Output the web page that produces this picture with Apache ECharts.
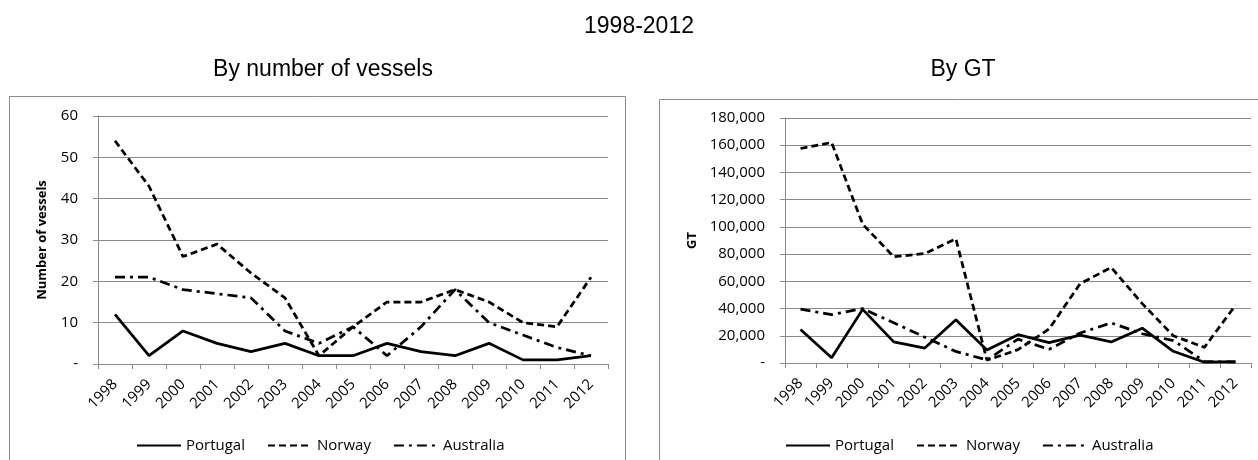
<!DOCTYPE html>
<html>
<head>
<meta charset="utf-8">
<script src="https://cdn.jsdelivr.net/npm/echarts@6/dist/echarts.min.js"></script>
<style>
    html, body { margin: 0; padding: 0; background: #fff; }
    #main { width: 1258px; height: 460px; }
</style>
</head>
<body>
<div id="main"></div>
<script>
    // data
    var years = ['1998', '1999', '2000', '2001', '2002', '2003', '2004', '2005',
        '2006', '2007', '2008', '2009', '2010', '2011', '2012'];
    var seriesNames = ['Portugal', 'Norway', 'Australia'];

    var portugalVessels = [12, 2, 8, 5, 3, 5, 2, 2, 5, 3, 2, 5, 1, 1, 2];
    var norwayVessels = [54, 43, 26, 29, 22, 16, 2, 9, 15, 15, 18, 15, 10, 9, 21];
    var australiaVessels = [21, 21, 18, 17, 16, 8, 5, 9, 2, 9, 18, 10, 7, 4, 2];

    var portugalGT = [24600, 3800, 39400, 15500, 11000, 31800, 9500, 20800,
        15000, 20500, 15500, 25600, 8600, 600, 1000];
    var norwayGT = [157600, 162000, 102000, 78000, 80400, 91300, 2000, 9800,
        25000, 58300, 70200, 43600, 20000, 11500, 42400];
    var australiaGT = [39600, 35500, 40000, 29500, 19000, 8500, 2200, 17500,
        10000, 22000, 29500, 21500, 16500, 1200, 600];

    var axisGrey = '#8a8a8a';
    var labelFont = 'Open Sans';

    // line styles: solid / dashed / dash-dot
    var lineTypes = ['solid', [7, 4], [10, 5, 3, 5]];

    function zeroDash(v) {
        return v === 0 ? '-' : v.toLocaleString('en-US');
    }

    function makeXAxis(idx) {
        return {
            type: 'category',
            gridIndex: idx,
            data: years,
            boundaryGap: true,
            axisLine: { lineStyle: { color: axisGrey, width: 1 } },
            axisTick: { show: true, interval: 0, length: 5, lineStyle: { color: axisGrey } },
            axisLabel: {
                interval: 0,
                rotate: 45,
                margin: 18,
                color: '#000',
                fontFamily: labelFont,
                fontSize: 15
            }
        };
    }

    function makeYAxis(idx, max, step, name, gap) {
        return {
            type: 'value',
            gridIndex: idx,
            min: 0,
            max: max,
            interval: step,
            name: name,
            nameLocation: 'middle',
            nameRotate: 90,
            nameGap: gap,
            nameTextStyle: {
                color: '#000',
                fontFamily: labelFont,
                fontWeight: 'bold',
                fontSize: 13
            },
            axisLine: { show: true, lineStyle: { color: axisGrey, width: 1 } },
            axisTick: { show: true, length: 5, lineStyle: { color: axisGrey } },
            splitLine: { lineStyle: { color: axisGrey, width: 1 } },
            axisLabel: {
                color: '#000',
                fontFamily: labelFont,
                fontSize: 15,
                margin: 20,
                formatter: zeroDash
            }
        };
    }

    function makeSeries(idx, values) {
        return values.map(function (arr, i) {
            return {
                name: seriesNames[i],
                type: 'line',
                xAxisIndex: idx,
                yAxisIndex: idx,
                data: arr,
                symbol: 'none',
                showSymbol: false,
                animation: false,
                lineStyle: { color: '#000', width: 2.75, type: lineTypes[i] },
                itemStyle: { color: '#000' }
            };
        });
    }

    function makeLegend(left) {
        return {
            data: seriesNames,
            left: left,
            top: 433,
            orient: 'horizontal',
            itemWidth: 44,
            itemHeight: 10,
            itemGap: 22,
            itemStyle: { opacity: 0 },
            textStyle: { color: '#000', fontFamily: labelFont, fontSize: 15 }
        };
    }

    var titleStyle = { fontFamily: 'Liberation Sans', fontWeight: 'normal', fontSize: 23, color: '#000' };

    var myChart = echarts.init(document.getElementById('main'));
    var option = {
        backgroundColor: '#fff',
        animation: false,
        title: [
            { text: '1998-2012', left: 634, top: 10, textAlign: 'center', textStyle: titleStyle },
            { text: 'By number of vessels', left: 318, top: 53, textAlign: 'center', textStyle: titleStyle },
            { text: 'By GT', left: 958, top: 53, textAlign: 'center', textStyle: titleStyle }
        ],
        graphic: [
            { type: 'rect', shape: { x: 9.5, y: 96.5, width: 616, height: 400 },
              style: { fill: 'none', stroke: '#8c8c8c', lineWidth: 1 }, z: -1 },
            { type: 'rect', shape: { x: 659.5, y: 99.5, width: 700, height: 400 },
              style: { fill: 'none', stroke: '#8c8c8c', lineWidth: 1 }, z: -1 }
        ],
        legend: [makeLegend(131), makeLegend(780)],
        grid: [
            { left: 98, right: 650, top: 116, bottom: 96 },
            { left: 785, right: 7, top: 118, bottom: 97 }
        ],
        xAxis: [makeXAxis(0), makeXAxis(1)],
        yAxis: [
            makeYAxis(0, 60, 10, 'Number of vessels', 49),
            makeYAxis(1, 180000, 20000, 'GT', 86)
        ],
        series: makeSeries(0, [portugalVessels, norwayVessels, australiaVessels])
            .concat(makeSeries(1, [portugalGT, norwayGT, australiaGT]))
    };
    myChart.setOption(option);
</script>
</body>
</html>
